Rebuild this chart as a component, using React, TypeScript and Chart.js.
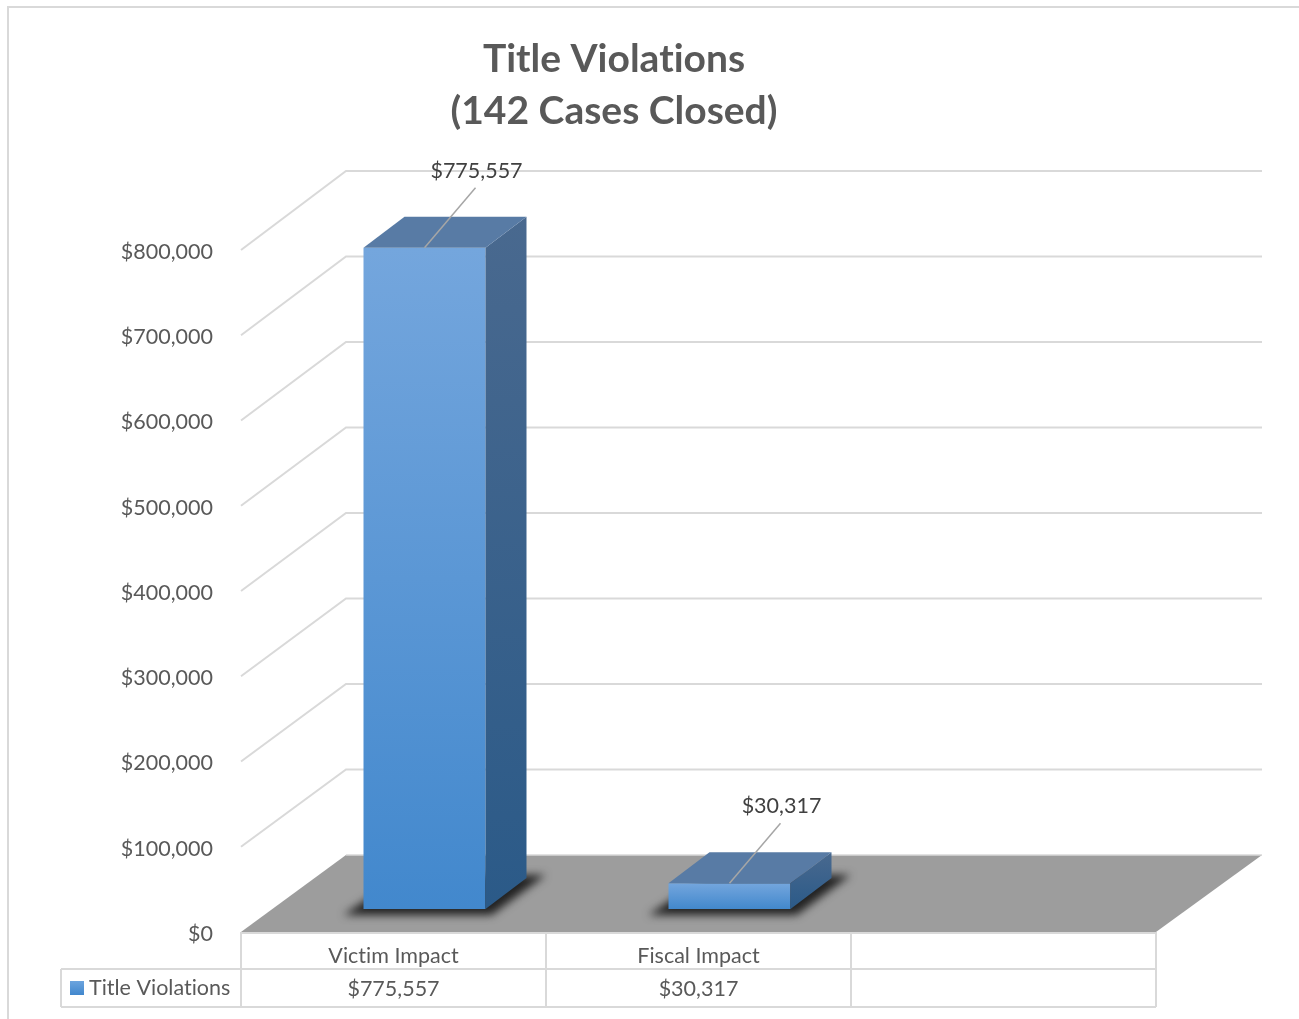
import React, { useEffect, useRef } from "react";
import { Chart, registerables } from "chart.js";

Chart.register(...registerables);

const categories = ["Victim Impact", "Fiscal Impact", ""];
const seriesName = "Title Violations";
const seriesValues: (number | null)[] = [775557, 30317, null];
const titleLines = ["Title Violations", "(142 Cases Closed)"];
const yMax = 800000;
const yStep = 100000;

const FONT = "Lato, Carlito, Calibri, sans-serif";
const TEXT = "#595959";
const GRID = "#d9d9d9";
const LABEL_SIZE = 21.5;
const money = (v: number) => "$" + v.toLocaleString("en-US");

// 3D projection constants
const WALL_DX = 105;
const BAR_DX = 31;
const BAR_DY = -23;
const BAR_DEPTH_DX = 41;
const BAR_DEPTH_DY = -31;

const poly = (ctx: CanvasRenderingContext2D, pts: number[][]) => {
  ctx.beginPath();
  pts.forEach(([x, y], i) => (i ? ctx.lineTo(x, y) : ctx.moveTo(x, y)));
  ctx.closePath();
};

const line = (ctx: CanvasRenderingContext2D, pts: number[][], color: string, w: number) => {
  ctx.beginPath();
  pts.forEach(([x, y], i) => (i ? ctx.lineTo(x, y) : ctx.moveTo(x, y)));
  ctx.strokeStyle = color;
  ctx.lineWidth = w;
  ctx.stroke();
};

const scene = {
  id: "scene3d",
  beforeDraw(chart: any) {
    const { ctx, width, height } = chart;
    ctx.textRendering = "optimizeSpeed";
    ctx.save();
    ctx.fillStyle = "#fff";
    ctx.fillRect(0, 0, width, height);
    line(ctx, [[8, height], [8, 7], [width, 7]], GRID, 2);
    ctx.restore();
  },
  beforeDatasetsDraw(chart: any) {
    const { ctx, chartArea, scales } = chart;
    const { left, right, bottom } = chartArea;
    const backY = (y: number) => y - 77 - (2 * (bottom - y)) / (bottom - chartArea.top);
    ctx.save();
    scales.y.ticks.forEach((t: any) => {
      if (t.value === 0) return;
      const y = scales.y.getPixelForValue(t.value);
      line(ctx, [[left, y], [left + WALL_DX, backY(y)], [right + WALL_DX + 1, backY(y)]], GRID, 2);
    });
    poly(ctx, [[left, bottom], [right, bottom], [right + WALL_DX + 1, backY(bottom)], [left + WALL_DX, backY(bottom)]]);
    ctx.fillStyle = "#9d9d9d";
    ctx.fill();
    line(ctx, [[left + WALL_DX, backY(bottom)], [right + WALL_DX + 1, backY(bottom)]], GRID, 1.5);
    ctx.restore();
  },
  beforeDatasetDraw(chart: any) {
    const { ctx } = chart;
    const meta = chart.getDatasetMeta(0);
    ctx.save();
    ctx.save();
    ctx.filter = "blur(4.5px)";
    ctx.fillStyle = "#222";
    meta.data.forEach((b: any, i: number) => {
      if (seriesValues[i] == null) return;
      const L = b.x - b.width / 2 + BAR_DX;
      const R = b.x + b.width / 2 + BAR_DX;
      const B = b.base + BAR_DY;
      poly(ctx, [[L - 20, B + 6], [R + 6, B + 6], [R + 60, B - 34], [L + 40, B - 34]]);
      ctx.fill();
    });
    ctx.restore();
    ctx.translate(BAR_DX, BAR_DY);
  },
  afterDatasetDraw(chart: any) {
    const { ctx } = chart;
    ctx.restore();
    const meta = chart.getDatasetMeta(0);
    ctx.save();
    meta.data.forEach((b: any, i: number) => {
      if (seriesValues[i] == null) return;
      const L = b.x - b.width / 2 + BAR_DX;
      const R = b.x + b.width / 2 + BAR_DX;
      const T = b.y + BAR_DY;
      const B = b.base + BAR_DY;
      const g = ctx.createLinearGradient(0, T + BAR_DEPTH_DY, 0, B);
      g.addColorStop(0, "#49698f");
      g.addColorStop(1, "#2b5a88");
      poly(ctx, [[R, T], [R + BAR_DEPTH_DX, T + BAR_DEPTH_DY], [R + BAR_DEPTH_DX, B + BAR_DEPTH_DY], [R, B]]);
      ctx.fillStyle = g;
      ctx.fill();
      poly(ctx, [[L, T], [L + BAR_DEPTH_DX, T + BAR_DEPTH_DY], [R + BAR_DEPTH_DX, T + BAR_DEPTH_DY], [R, T]]);
      ctx.fillStyle = "#587ba5";
      ctx.fill();

      const cx = b.x + BAR_DX;
      line(ctx, [[cx, T], [cx + 51, T - 60]], "#a6a6a6", 1.5);
      ctx.fillStyle = "#404040";
      ctx.font = `${LABEL_SIZE}px ${FONT}`;
      ctx.textAlign = "center";
      ctx.textBaseline = "middle";
      ctx.fillText(money(seriesValues[i] as number), cx + 52, T - 77);
    });
    ctx.restore();
  },
  afterDraw(chart: any) {
    const { ctx, chartArea, scales } = chart;
    const { left, right, bottom } = chartArea;
    const row1 = 969;
    const row2 = 1007;
    const keyLeft = 61;
    ctx.save();
    line(ctx, [[left, bottom + 1], [right, bottom + 1]], GRID, 2);
    line(ctx, [[keyLeft, row1], [right, row1]], GRID, 2);
    line(ctx, [[keyLeft, row2], [right, row2]], GRID, 2);
    line(ctx, [[keyLeft, row1], [keyLeft, row2]], GRID, 2);
    const half = scales.x.width / categories.length / 2;
    line(ctx, [[left, bottom], [left, row2]], GRID, 2);
    categories.forEach((_, i) => {
      const x = scales.x.getPixelForValue(i) + half;
      line(ctx, [[x, bottom], [x, row2]], GRID, 2);
    });
    const g = ctx.createLinearGradient(0, 981, 0, 995);
    g.addColorStop(0, "#6ca4de");
    g.addColorStop(1, "#4187cd");
    ctx.fillStyle = g;
    ctx.fillRect(70, 981, 14, 14);
    ctx.fillStyle = TEXT;
    ctx.font = `${LABEL_SIZE}px ${FONT}`;
    ctx.textBaseline = "middle";
    ctx.textAlign = "left";
    ctx.fillText(seriesName, 89, 988);
    ctx.textAlign = "center";
    seriesValues.forEach((v, i) => {
      if (v != null) ctx.fillText(money(v), scales.x.getPixelForValue(i), 989);
    });
    ctx.restore();
  },
};

export default function App() {
  const ref = useRef<HTMLCanvasElement>(null);
  useEffect(() => {
    const chart = new Chart(ref.current as HTMLCanvasElement, {
      type: "bar",
      data: {
        labels: categories,
        datasets: [
          {
            label: seriesName,
            data: seriesValues,
            barPercentage: 0.4,
            categoryPercentage: 1,
            borderWidth: 0,
            backgroundColor: (c: any) => {
              const { chart: ch, parsed } = c;
              const s = ch.scales?.y;
              const top = s && parsed ? s.getPixelForValue(parsed.y) : NaN;
              const base = s ? s.getPixelForValue(0) : NaN;
              if (!Number.isFinite(top) || !Number.isFinite(base)) return "#5b9bd5";
              const g = ch.ctx.createLinearGradient(0, top, 0, base);
              g.addColorStop(0, "#74a6dd");
              g.addColorStop(1, "#4288cd");
              return g;
            },
          },
        ],
      } as any,
      options: {
        responsive: false,
        animation: false,
        devicePixelRatio: 1,
        layout: { autoPadding: false, padding: { left: 72, right: 143, top: 33, bottom: 0 } },
        plugins: {
          legend: { display: false },
          tooltip: { enabled: false },
          title: {
            display: true,
            text: titleLines,
            color: TEXT,
            font: { family: FONT, size: 39, weight: "bold", lineHeight: 52 / 39 },
            padding: { top: 0, bottom: 113 },
          },
        },
        scales: {
          x: {
            grid: { display: false },
            border: { display: false },
            ticks: { color: TEXT, font: { family: FONT, size: LABEL_SIZE }, padding: 3, maxRotation: 0 },
            afterFit: (s: any) => { s.height = 87; },
          },
          y: {
            min: 0,
            max: yMax,
            grid: { display: false, drawTicks: false },
            border: { display: false },
            ticks: {
              stepSize: yStep,
              color: TEXT,
              font: { family: FONT, size: LABEL_SIZE },
              padding: 28,
              labelOffset: 2,
              callback: (v: any) => money(Number(v)),
            },
            afterFit: (s: any) => { s.width = 169; },
          },
        },
      } as any,
      plugins: [scene],
    });
    return () => chart.destroy();
  }, []);
  return (
    <canvas
      ref={ref}
      width={1299}
      height={1019}
      style={{ position: "absolute", left: 0, top: 0, width: 1299, height: 1019 }}
    />
  );
}
